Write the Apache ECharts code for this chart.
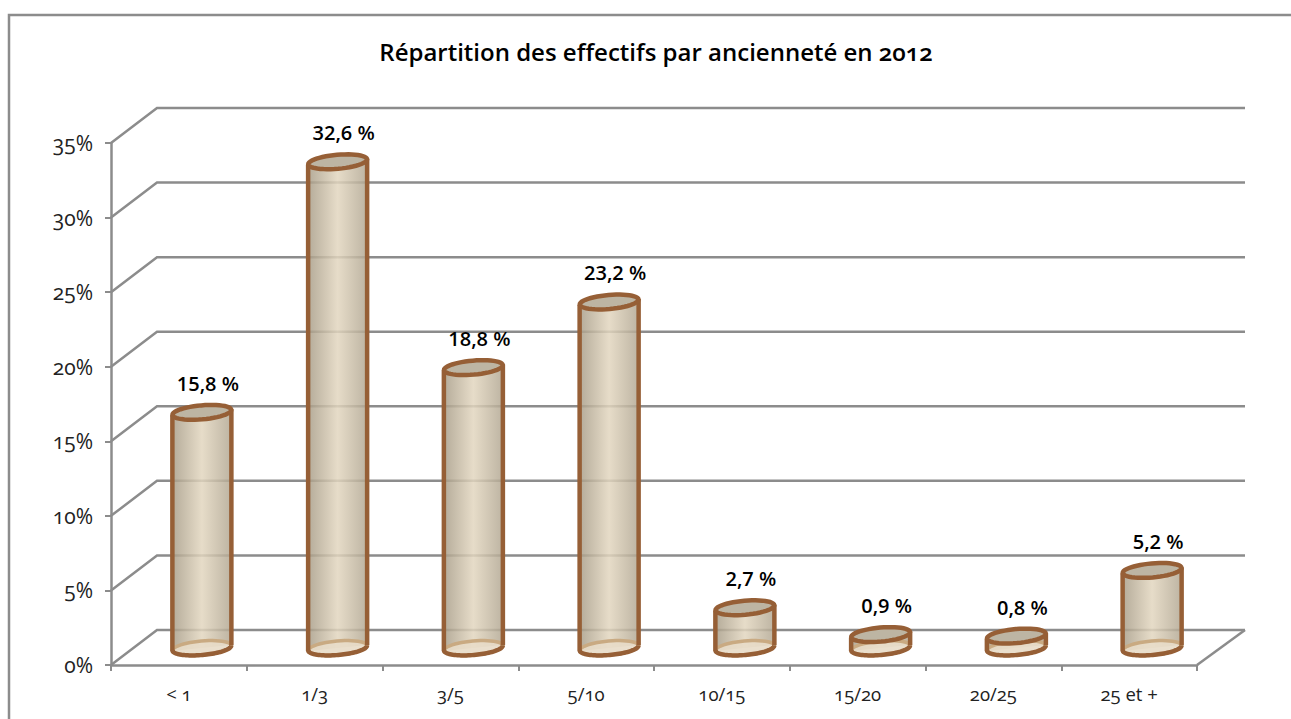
<!doctype html>
<html>
    <head>
        <meta charset="utf-8">
        <title>Répartition des effectifs par ancienneté en 2012</title>
        <style>
            html, body { margin: 0; padding: 0; background: #fff; }
            #main { width: 1291px; height: 719px; font-variant-numeric: oldstyle-nums; font-feature-settings: "onum"; }
            #main text { font-variant-numeric: oldstyle-nums; font-feature-settings: "onum"; }
        </style>
    </head>
    <body>
        <div id="main"></div>
        <script src="https://cdn.jsdelivr.net/npm/echarts@6/dist/echarts.min.js"></script>
        <script>
            var titleText = 'Répartition des effectifs par ancienneté en 2012';
            var categories = ['< 1', '1/3', '3/5', '5/10', '10/15', '15/20', '20/25', '25 et +'];
            var values = [15.8, 32.6, 18.8, 23.2, 2.7, 0.9, 0.8, 5.2];
            var gridTicks = [0, 5, 10, 15, 20, 25, 30, 35];

            var FONT = '"Open Sans", Lato, sans-serif';
            var GREY = '#8c8c8c';
            var BROWN = '#965f36';

            // fake 3d depth of the chart box
            var DEPTH_X = 46;
            var DEPTH_Y = 35;

            var chart = echarts.init(document.getElementById('main'), null, { renderer: 'svg' });

            function ellipsePoints(cx, cy, rx, ry, from, to) {
                var tilt = -5 * Math.PI / 180;
                var pts = [];
                for (var i = 0; i <= 48; i++) {
                    var a = from + (to - from) * i / 48;
                    var x = rx * Math.cos(a);
                    var y = ry * Math.sin(a);
                    pts.push([
                        cx + x * Math.cos(tilt) - y * Math.sin(tilt),
                        cy + x * Math.sin(tilt) + y * Math.cos(tilt)
                    ]);
                }
                return pts;
            }

            function renderWall(params, api) {
                var band = api.size([1, 0])[0];
                var v = api.value(1);
                var first = api.coord([0, v]);
                var last = api.coord([categories.length - 1, v]);
                var left = first[0] - band / 2;
                var right = last[0] + band / 2;
                var y = first[1];
                var pts = [[left, y], [left + DEPTH_X, y - DEPTH_Y], [right + DEPTH_X + 2, y - DEPTH_Y]];
                var children = [{
                    type: 'polyline',
                    shape: { points: pts },
                    style: { stroke: GREY, lineWidth: 2.5, fill: null }
                }];
                if (v === 0) {
                    children.push({
                        type: 'line',
                        shape: { x1: right, y1: y, x2: right + DEPTH_X + 2, y2: y - DEPTH_Y },
                        style: { stroke: GREY, lineWidth: 2.5 }
                    });
                }
                return { type: 'group', children: children };
            }

            function renderCylinder(params, api) {
                var i = api.value(0);
                var v = api.value(1);
                var base = api.coord([i, 0]);
                var top = api.coord([i, v]);
                var cx = base[0] + 23;
                var by = base[1] - 17;
                var ty = top[1] - 17;
                var rx = 29.5;
                var ry = 7;
                var dy = 3;

                var body = {
                    type: 'polygon',
                    shape: { points: [[cx - rx, ty + dy], [cx + rx, ty - dy], [cx + rx, by - dy], [cx - rx, by + dy]] },
                    style: {
                        fill: new echarts.graphic.LinearGradient(0, 0, 1, 0, [
                            { offset: 0, color: 'rgba(168,157,136,0.85)' },
                            { offset: 0.5, color: 'rgba(226,214,191,0.85)' },
                            { offset: 1, color: 'rgba(178,167,146,0.85)' }
                        ])
                    }
                };
                return {
                    type: 'group',
                    children: [
                        body,
                        {
                            type: 'polygon',
                            shape: { points: ellipsePoints(cx, by, rx, ry, 0, Math.PI * 2) },
                            style: { fill: 'rgba(232,220,200,0.9)', stroke: '#c9aa82', lineWidth: 3.5 }
                        },
                        {
                            type: 'polyline',
                            shape: { points: ellipsePoints(cx, by, rx, ry, 0, Math.PI) },
                            style: { stroke: BROWN, lineWidth: 4.5, fill: null }
                        },
                        {
                            type: 'line',
                            shape: { x1: cx - rx, y1: ty + dy, x2: cx - rx, y2: by + dy },
                            style: { stroke: BROWN, lineWidth: 4.5 }
                        },
                        {
                            type: 'line',
                            shape: { x1: cx + rx, y1: ty - dy, x2: cx + rx, y2: by - dy },
                            style: { stroke: BROWN, lineWidth: 4.5 }
                        },
                        {
                            type: 'polygon',
                            shape: { points: ellipsePoints(cx, ty, rx, ry, 0, Math.PI * 2) },
                            style: { fill: '#bdb5a3', stroke: BROWN, lineWidth: 4.5 }
                        },
                        {
                            type: 'text',
                            style: {
                                x: cx + 6,
                                y: ty - 29,
                                text: String(v).replace('.', ',') + ' %',
                                font: '600 20px ' + FONT,
                                fill: '#000',
                                align: 'center',
                                verticalAlign: 'middle'
                            }
                        }
                    ]
                };
            }

            chart.setOption({
                animation: false,
                backgroundColor: '#fff',
                title: {
                    text: titleText,
                    left: 651,
                    top: 34,
                    textAlign: 'center',
                    textStyle: { color: '#000', fontFamily: FONT, fontSize: 24, fontWeight: 600 }
                },
                graphic: [{
                    type: 'polyline',
                    shape: { points: [[9, 719], [9, 15], [1291, 15]] },
                    style: { stroke: GREY, lineWidth: 2.5, fill: null }
                }],
                grid: { left: 111, top: 143, width: 1086, height: 522 },
                xAxis: {
                    type: 'category',
                    data: categories,
                    axisLine: { lineStyle: { color: GREY, width: 2.5 } },
                    axisTick: { show: true, alignWithLabel: false, length: 6, lineStyle: { color: GREY, width: 2 } },
                    axisLabel: { color: '#222', fontFamily: FONT, fontSize: 18.5, margin: 19, interval: 0 }
                },
                yAxis: {
                    type: 'value',
                    min: 0,
                    max: 35,
                    interval: 5,
                    axisLine: { show: true, lineStyle: { color: GREY, width: 2.5 } },
                    axisTick: { show: true, length: 6, lineStyle: { color: GREY, width: 2 } },
                    axisLabel: { color: '#222', fontFamily: FONT, fontSize: 21, margin: 18, formatter: '{value}%' },
                    splitLine: { show: false }
                },
                series: [
                    {
                        type: 'custom',
                        silent: true,
                        clip: false,
                        z: 1,
                        renderItem: renderWall,
                        data: gridTicks.map(function (t) { return [0, t]; })
                    },
                    {
                        type: 'custom',
                        silent: true,
                        clip: false,
                        z: 3,
                        renderItem: renderCylinder,
                        data: values.map(function (v, i) { return [i, v]; })
                    }
                ]
            });

            window.onresize = chart.resize;
        </script>
    </body>
</html>
